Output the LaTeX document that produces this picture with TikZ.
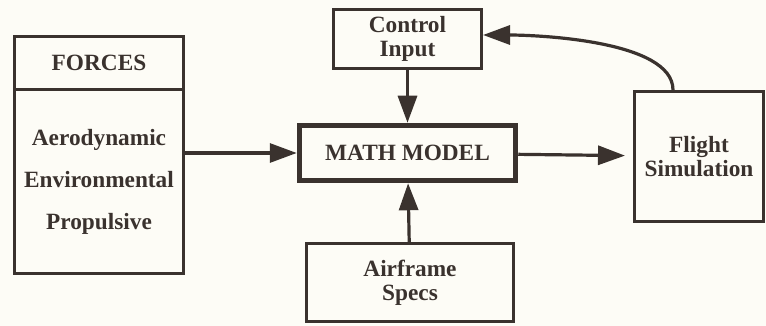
\documentclass[tikz,border=0pt]{standalone}
\usepackage{fontspec}
\setmainfont{Liberation Serif}
\usetikzlibrary{arrows.meta,positioning,calc}
\definecolor{ink}{RGB}{58,50,46}
\definecolor{paper}{RGB}{253,252,246}

\begin{document}
\begin{tikzpicture}[x=1pt,y=-1pt,font=\fontsize{23.3}{24}\selectfont\bfseries,
  >={Triangle[length=27pt,width=19pt]},
  blk/.style={draw=ink,text=ink,line width=3pt,inner sep=0pt,align=center},
  big/.style={blk,line width=5.5pt},
  arr/.style={->,draw=ink,line width=3.2pt}]
\fill[paper] (0,0) rectangle (766,326);
\useasboundingbox (0,0) rectangle (766,326);
% FORCES
\node[blk,minimum width=169pt,minimum height=53.5pt] (fh) at (99,63.25) {FORCES};
\node[blk,minimum width=169pt,minimum height=183.5pt] (fb) at (99,181.75)
  {Aerodynamic\\[18pt]Environmental\\[18pt]Propulsive};
% MODEL
\node[big,minimum width=216pt,minimum height=55pt] (mm) at (407.5,153) {MATH MODEL};
\node[blk,minimum width=148pt,minimum height=59pt] (ci) at (407.5,39) {Control\\Input};
\node[blk,minimum width=207pt,minimum height=78pt] (af) at (410,282.5) {Airframe\\Specs};
\node[blk,minimum width=129pt,minimum height=130pt] (fs) at (699,156.5) {Flight\\Simulation};
\coordinate (fstop) at ($(fs.north west)+(40,0)$);
\draw[arr] (fb.east |- mm.west) -- (mm.west);
\draw[arr] (ci) -- (mm);
\draw[arr] (af) -- (mm);
\draw[arr,shorten >=8pt] (mm) -- (fs);
\draw[arr] (fstop) to[out=90,in=0,looseness=0.65] ($(ci.east)+(0,-4)$);
\end{tikzpicture}
\end{document}
